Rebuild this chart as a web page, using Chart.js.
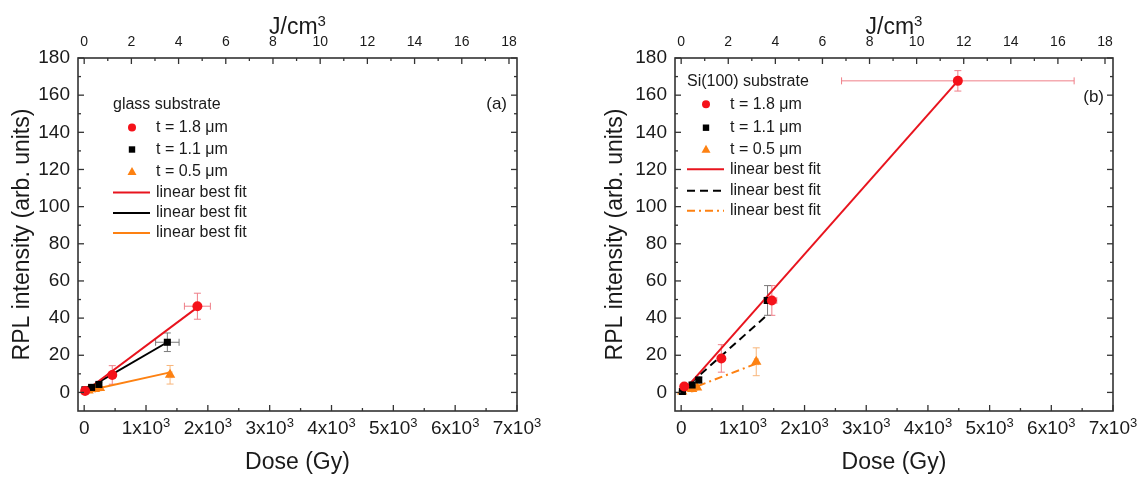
<!DOCTYPE html>
<html><head><meta charset="utf-8">
<script src="https://cdn.jsdelivr.net/npm/chart.js@4/dist/chart.umd.min.js"></script>
<style>
html,body{margin:0;padding:0;background:#fff;width:1147px;height:482px;overflow:hidden}
.wrap{position:absolute;top:0;height:482px}
#wa{left:0;width:573px}
#wb{left:573px;width:574px}
</style></head><body>
<div class="wrap" id="wa"><canvas id="ca" width="573" height="482"></canvas></div>
<div class="wrap" id="wb"><canvas id="cb" width="574" height="482"></canvas></div>
<script>
const FONT = '"Liberation Sans", Arial, Helvetica, sans-serif';
const TXT = '#1a1a1a';
const AXIS = '#333333';
const GY_TO_JCM3 = 0.00262;

// ---- ticks ----
const doseTicks = [0, 1000, 2000, 3000, 4000, 5000, 6000, 7000];
const doseTickLabels = ['0', '1x10³', '2x10³', '3x10³', '4x10³', '5x10³', '6x10³', '7x10³'];
const doseMinor = [500, 1500, 2500, 3500, 4500, 5500, 6500];
const energyTicks = [0, 2, 4, 6, 8, 10, 12, 14, 16, 18];
const energyTickLabels = ['0', '2', '4', '6', '8', '10', '12', '14', '16', '18'];
const energyMinor = [1, 3, 5, 7, 9, 11, 13, 15, 17];
const rplTicks = [0, 20, 40, 60, 80, 100, 120, 140, 160, 180];
const rplMinor = [10, 30, 50, 70, 90, 110, 130, 150, 170];

// ---- panel (a): glass substrate ----
const glass18_dose = [15, 454, 1831];
const glass18_rpl = [0.8, 9.4, 46.4];
const glass18_doseErr = [8, 30, 210];
const glass18_rplErr = [0.6, 5, 7];

const glass11_dose = [11, 120, 238, 1345];
const glass11_rpl = [1.4, 2.7, 4.3, 27];
const glass11_doseErr = [6, 10, 15, 190];
const glass11_rplErr = [0.6, 0.8, 1.2, 5];

const glass05_dose = [70, 173, 255, 1389];
const glass05_rpl = [1.0, 1.8, 2.4, 9.5];
const glass05_doseErr = [5, 10, 15, 30];
const glass05_rplErr = [0.5, 0.6, 0.8, 5];

const glassFit18_dose = [0, 1831];
const glassFit18_rpl = [0.2, 45.8];
const glassFit11_dose = [11, 1345];
const glassFit11_rpl = [1.2, 27];
const glassFit05_dose = [50, 1389];
const glassFit05_rpl = [0.9, 10.8];

// ---- panel (b): Si(100) substrate ----
const si18_dose = [50, 651, 1470, 4485];
const si18_rpl = [3.2, 18.3, 49.5, 167.7];
const si18_doseErr = [10, 30, 80, 1885];
const si18_rplErr = [1, 7.4, 8, 5.5];

const si11_dose = [20, 177, 285, 1400];
const si11_rpl = [0.5, 4, 6.7, 49.5];
const si11_doseErr = [5, 10, 15, 60];
const si11_rplErr = [0.5, 1, 1.5, 8];

const si05_dose = [16, 178, 258, 1217];
const si05_rpl = [0.5, 1.8, 2.7, 16.5];
const si05_doseErr = [5, 10, 10, 30];
const si05_rplErr = [0.5, 1, 1, 7.5];

const siFit18_dose = [40, 4485];
const siFit18_rpl = [0.8, 167.7];
const siFit11_dose = [0, 1390];
const siFit11_rpl = [0.5, 41.5];
const siFit05_dose = [0, 1217];
const siFit05_rpl = [0, 15.5];

const RED = '#f5121a', BLACK = '#000000', ORANGE = '#fd8112';
const RED_LINE = '#e8141e';
const RED_ERR = '#ef7f88', BLACK_ERR = '#7a7a7a', ORANGE_ERR = '#f8b57a';

function pts(xs, ys) { return xs.map((x, i) => ({x: x, y: ys[i]})); }

function markerSet(label, xs, ys, ex, ey, style, color, errColor, radius) {
  return {label, data: pts(xs, ys), errX: ex, errY: ey, errColor,
    pointStyle: style, pointRadius: radius, pointBackgroundColor: color,
    pointBorderColor: color, pointBorderWidth: 0, showLine: false, legendKind: 'point'};
}
function fitSet(label, xs, ys, color, dash) {
  return {label, data: pts(xs, ys), showLine: true, pointRadius: 0,
    borderColor: color, borderWidth: 2, borderDash: dash, fill: false, legendKind: 'line'};
}

// draws "base" + superscript part (text after '³' split)
function supText(ctx, text, cx, baseY, baseSize, supSize, supRise) {
  const parts = text.split('³');
  const base = parts[0]; const hasSup = parts.length > 1;
  ctx.font = baseSize + 'px ' + FONT;
  const wb = ctx.measureText(base).width;
  ctx.font = supSize + 'px ' + FONT;
  const ws = hasSup ? ctx.measureText('3').width : 0;
  const x0 = cx - (wb + ws) / 2;
  ctx.textAlign = 'left'; ctx.textBaseline = 'alphabetic';
  ctx.font = baseSize + 'px ' + FONT;
  ctx.fillText(base, x0, baseY);
  if (hasSup) { ctx.font = supSize + 'px ' + FONT; ctx.fillText('3', x0 + wb, baseY - supRise); }
}

const errorBars = {
  id: 'errorBars',
  beforeDatasetsDraw(chart) {
    const {ctx} = chart; const xs = chart.scales.x, ys = chart.scales.y;
    ctx.save(); ctx.lineWidth = 1;
    chart.data.datasets.forEach(ds => {
      if (!ds.errX) return;
      ctx.strokeStyle = ds.errColor;
      ds.data.forEach((p, i) => {
        const px = xs.getPixelForValue(p.x), py = ys.getPixelForValue(p.y);
        const x1 = xs.getPixelForValue(p.x - ds.errX[i]), x2 = xs.getPixelForValue(p.x + ds.errX[i]);
        const y1 = ys.getPixelForValue(p.y - ds.errY[i]), y2 = ys.getPixelForValue(p.y + ds.errY[i]);
        const c = 3.5;
        ctx.beginPath();
        ctx.moveTo(x1, py); ctx.lineTo(x2, py);
        ctx.moveTo(x1, py - c); ctx.lineTo(x1, py + c);
        ctx.moveTo(x2, py - c); ctx.lineTo(x2, py + c);
        ctx.moveTo(px, y1); ctx.lineTo(px, y2);
        ctx.moveTo(px - c, y1); ctx.lineTo(px + c, y1);
        ctx.moveTo(px - c, y2); ctx.lineTo(px + c, y2);
        ctx.stroke();
      });
    });
    ctx.restore();
  }
};

const frameTicks = {
  id: 'frameTicks',
  afterDatasetsDraw(chart) {
    const {ctx, chartArea: a, scales} = chart;
    ctx.save();
    ctx.strokeStyle = AXIS;
    ctx.lineWidth = 1.6;
    ctx.strokeRect(a.left, a.top, a.right - a.left, a.bottom - a.top);
    ctx.lineWidth = 1.3;
    const seg = (x1, y1, x2, y2) => { ctx.beginPath(); ctx.moveTo(x1, y1); ctx.lineTo(x2, y2); ctx.stroke(); };
    const hx = (scale, vals, len, side) => vals.forEach(v => {
      const p = scale.getPixelForValue(v);
      if (side === 'bottom') seg(p, a.bottom, p, a.bottom - len); else seg(p, a.top, p, a.top + len);
    });
    hx(scales.x, doseTicks, 6, 'bottom'); hx(scales.x, doseMinor, 3, 'bottom');
    hx(scales.x2, energyTicks, 6, 'top'); hx(scales.x2, energyMinor, 3, 'top');
    const vy = (vals, len) => vals.forEach(v => {
      const p = scales.y.getPixelForValue(v);
      seg(a.left, p, a.left + len, p); seg(a.right, p, a.right - len, p);
    });
    vy(rplTicks, 6); vy(rplMinor, 3);
    // bottom tick labels with superscripts
    ctx.fillStyle = TXT;
    doseTicks.forEach((v, i) => {
      supText(ctx, doseTickLabels[i], scales.x.getPixelForValue(v), a.bottom + 22.5, 19, 13, 6.5);
    });
    // top axis title
    supText(ctx, 'J/cm³', (a.left + a.right) / 2, 34, 23, 15, 8.5);
    ctx.restore();
  }
};

const panelLegend = {
  id: 'panelLegend',
  afterDraw(chart, args, o) {
    const {ctx} = chart;
    ctx.save();
    ctx.fillStyle = TXT;
    ctx.textBaseline = 'middle';
    ctx.font = '16px ' + FONT;
    ctx.textAlign = 'left';
    ctx.fillText(o.title, o.x, o.y);
    chart.data.datasets.forEach((ds, i) => {
      const y = o.y + o.offsets[i];
      if (ds.legendKind === 'point') {
        const mx = o.x + 19;
        ctx.fillStyle = ds.pointBackgroundColor;
        ctx.beginPath();
        if (ds.pointStyle === 'circle') ctx.arc(mx, y, 4, 0, Math.PI * 2);
        else if (ds.pointStyle === 'rect') ctx.rect(mx - 3.2, y - 3.2, 6.4, 6.4);
        else { ctx.moveTo(mx, y - 4.5); ctx.lineTo(mx + 4.5, y + 3.5); ctx.lineTo(mx - 4.5, y + 3.5); ctx.closePath(); }
        ctx.fill();
      } else {
        ctx.strokeStyle = ds.borderColor; ctx.lineWidth = 2;
        ctx.setLineDash(ds.borderDash || []);
        ctx.beginPath(); ctx.moveTo(o.x, y); ctx.lineTo(o.x + 37, y); ctx.stroke();
        ctx.setLineDash([]);
      }
      ctx.fillStyle = TXT;
      ctx.fillText(ds.label, o.x + 43, y);
    });
    ctx.font = '17px ' + FONT;
    ctx.textAlign = 'right';
    ctx.fillText(o.tag, o.tagX, o.tagY);
    ctx.restore();
  }
};

function makeChart(id, datasets, p) {
  return new Chart(document.getElementById(id), {
    type: 'scatter',
    data: {datasets},
    plugins: [errorBars, frameTicks, panelLegend],
    options: {
      responsive: false, animation: false, devicePixelRatio: 1,
      layout: {padding: {left: 0, right: p.padRight, top: 0, bottom: 0}},
      plugins: {legend: {display: false}, tooltip: {enabled: false}, panelLegend: p.legend},
      scales: {
        x: {
          type: 'linear', position: 'bottom', min: -100, max: 7000,
          afterBuildTicks: s => { s.ticks = doseTicks.map(v => ({value: v})); },
          afterFit: s => { s.height = 71; },
          grid: {display: false, drawTicks: false}, border: {display: false},
          ticks: {display: false},
          title: {display: true, text: 'Dose (Gy)', color: TXT,
            font: {family: FONT, size: 23}, padding: {top: 0, bottom: 6}}
        },
        x2: {
          type: 'linear', position: 'top', min: -100 * GY_TO_JCM3, max: 7000 * GY_TO_JCM3,
          afterBuildTicks: s => { s.ticks = energyTicks.map(v => ({value: v})); },
          afterFit: s => { s.height = 58; },
          grid: {display: false, drawTicks: false}, border: {display: false},
          ticks: {padding: 7, color: TXT, autoSkip: false, maxRotation: 0,
            font: {family: FONT, size: 14},
            callback: v => energyTickLabels[energyTicks.indexOf(v)]},
          title: {display: false}
        },
        y: {
          type: 'linear', position: 'left', min: -10, max: 180,
          afterBuildTicks: s => { s.ticks = rplTicks.map(v => ({value: v})); },
          afterFit: s => { s.width = p.yWidth; },
          grid: {display: false, drawTicks: false}, border: {display: false},
          ticks: {padding: 8, color: TXT, font: {family: FONT, size: 19}},
          title: {display: true, text: 'RPL intensity (arb. units)', color: TXT,
            font: {family: FONT, size: 23}, padding: {top: p.yTitlePad, bottom: 0}}
        }
      }
    }
  });
}

makeChart('ca', [
  markerSet('t = 1.8 μm', glass18_dose, glass18_rpl, glass18_doseErr, glass18_rplErr, 'circle', RED, RED_ERR, 5),
  markerSet('t = 1.1 μm', glass11_dose, glass11_rpl, glass11_doseErr, glass11_rplErr, 'rect', BLACK, BLACK_ERR, 5),
  markerSet('t = 0.5 μm', glass05_dose, glass05_rpl, glass05_doseErr, glass05_rplErr, 'triangle', ORANGE, ORANGE_ERR, 6),
  fitSet('linear best fit', glassFit18_dose, glassFit18_rpl, RED_LINE, []),
  fitSet('linear best fit', glassFit11_dose, glassFit11_rpl, BLACK, []),
  fitSet('linear best fit', glassFit05_dose, glassFit05_rpl, ORANGE, [])
], {padRight: 56, yWidth: 78, yTitlePad: 9,
    legend: {title: 'glass substrate', x: 113, y: 105, offsets: [22.5, 44.5, 66.5, 87.5, 108, 128],
             tag: '(a)', tagX: 507, tagY: 104}});

makeChart('cb', [
  markerSet('t = 1.8 μm', si18_dose, si18_rpl, si18_doseErr, si18_rplErr, 'circle', RED, RED_ERR, 5),
  markerSet('t = 1.1 μm', si11_dose, si11_rpl, si11_doseErr, si11_rplErr, 'rect', BLACK, BLACK_ERR, 5),
  markerSet('t = 0.5 μm', si05_dose, si05_rpl, si05_doseErr, si05_rplErr, 'triangle', ORANGE, ORANGE_ERR, 6),
  fitSet('linear best fit', siFit18_dose, siFit18_rpl, RED_LINE, []),
  fitSet('linear best fit', siFit11_dose, siFit11_rpl, BLACK, [8, 5]),
  fitSet('linear best fit', siFit05_dose, siFit05_rpl, ORANGE, [8, 4, 2, 4])
], {padRight: 34, yWidth: 102, yTitlePad: 29,
    legend: {title: 'Si(100) substrate', x: 114, y: 81.7, offsets: [22.6, 46, 67.6, 87.6, 109, 129],
             tag: '(b)', tagX: 531, tagY: 97}});
</script>
</body></html>
